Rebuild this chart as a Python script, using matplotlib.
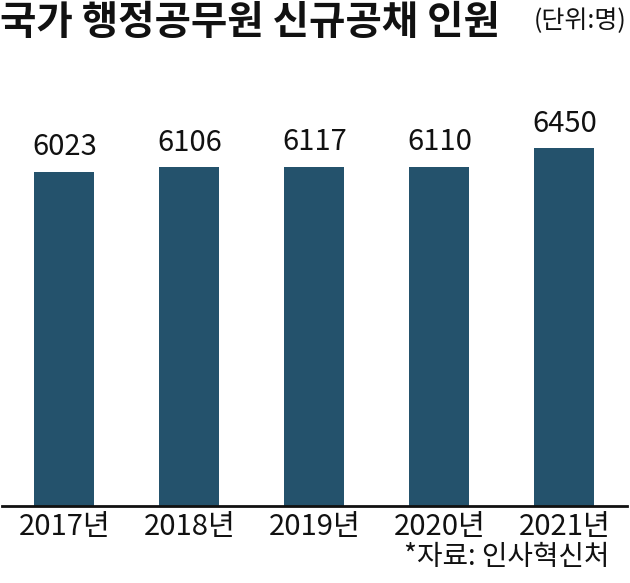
import matplotlib
matplotlib.use("Agg")
import matplotlib.pyplot as plt

years = ["2017년", "2018년", "2019년", "2020년", "2021년"]
values = [6023, 6106, 6117, 6110, 6450]

plt.rcParams['font.family'] = ['Noto Sans CJK KR', 'DejaVu Sans']

fig = plt.figure(figsize=(6.3, 5.83), dpi=100)
ax = fig.add_axes([0.003, 0.132, 0.992, 0.6965])

x = range(len(values))
ax.bar(x, values, width=0.48, color='#24526c', zorder=2)
for xi, v in zip(x, values):
    ax.text(xi, v + 440, f"{v}", ha='center', va='center', fontsize=21, color='#111111')

ax.set_xlim(-0.5, 4.5)
ax.set_ylim(0, 7316)
for s in ['top', 'right', 'left']:
    ax.spines[s].set_visible(False)
ax.spines['bottom'].set_linewidth(2)
ax.spines['bottom'].set_color('#111111')
ax.set_yticks([])
ax.set_xticks(list(x))
ax.set_xticklabels(years, fontsize=21, color='#111111')
ax.tick_params(axis='x', length=0, pad=4)

fig.text(0.0, 0.962, "국가 행정공무원 신규공채 인원", fontsize=28.5, fontweight='bold',
         ha='left', va='center', color='#111111')
fig.text(0.995, 0.964, "(단위:명)", fontsize=18, ha='right', va='center', color='#111111')
fig.text(0.968, 0.045, "*자료: 인사혁신처", fontsize=20, ha='right', va='center', color='#111111')

fig.savefig("out.png", dpi=100)
